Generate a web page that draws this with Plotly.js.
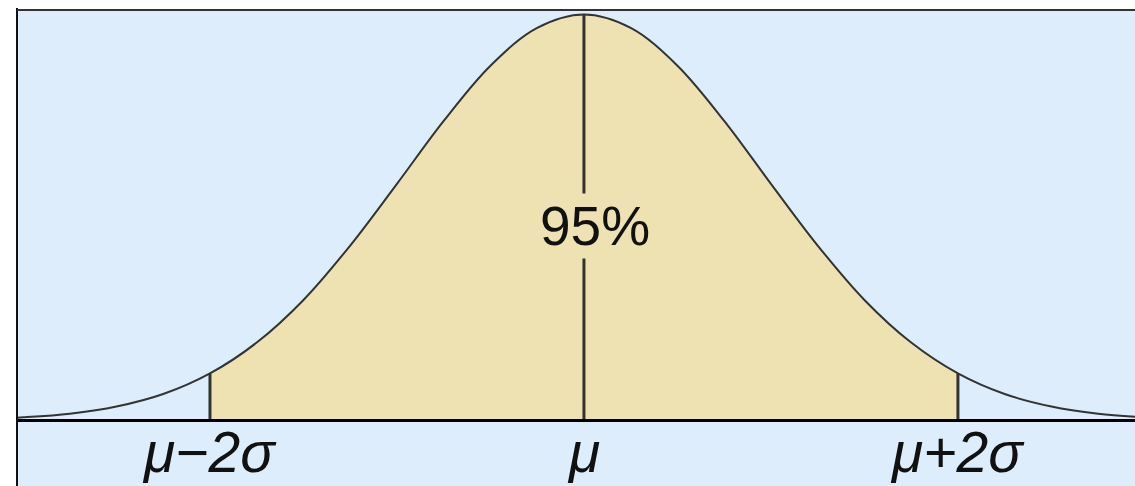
<!DOCTYPE html>
<html>
<head>
<meta charset="utf-8">
<script src="https://cdn.plot.ly/plotly-3.0.1.min.js"></script>
<style>
  html, body { margin: 0; padding: 0; background: #fff; }
  #chart { width: 1135px; height: 486px; }
</style>
</head>
<body>
<div id="chart"></div>
<script>
// curve heights (peak = 1), x in sigma units from the mean
const curveX = [-3.05, -3.0, -2.75, -2.5, -2.25, -2.0, -1.75, -1.5, -1.25, -1.0, -0.75, -0.5, -0.25, 0,
                0.25, 0.5, 0.75, 1.0, 1.25, 1.5, 1.75, 2.0, 2.25, 2.5, 2.75, 3.0];
const curveY = [0.0066, 0.0078, 0.0169, 0.0344, 0.0652, 0.116, 0.192, 0.297, 0.431, 0.583, 0.738, 0.874, 0.967, 1,
                0.967, 0.874, 0.738, 0.583, 0.431, 0.297, 0.192, 0.116, 0.0652, 0.0344, 0.0169, 0.0078];

// marked positions and their labels
const markX = [-2, 0, 2];
const markLabels = ['<i>μ−2σ</i>', '<i>μ</i>', '<i>μ+2σ</i>'];
const areaLabel = '95%';

const tan = 'rgb(239,226,178)';
const blue = 'rgb(221,237,252)';

// shaded middle part, between the outer marks
const midX = curveX.filter(x => x >= markX[0] && x <= markX[2]);
const midY = midX.map(x => curveY[curveX.indexOf(x)]);

const traces = [
  {
    x: midX, y: midY, type: 'scatter', mode: 'lines',
    line: {shape: 'spline', width: 0, color: tan},
    fill: 'tozeroy', fillcolor: tan, hoverinfo: 'skip'
  }
];

// vertical marks up to the curve
markX.forEach(m => {
  traces.push({
    x: [m, m], y: [0, curveY[curveX.indexOf(m)]], type: 'scatter', mode: 'lines',
    line: {color: '#333', width: 3}, hoverinfo: 'skip'
  });
});

traces.push({
  x: curveX, y: curveY, type: 'scatter', mode: 'lines',
  line: {shape: 'spline', color: '#333', width: 2}, hoverinfo: 'skip'
});

const annotations = markX.map((m, i) => ({
  x: m, y: -0.078, xref: 'x', yref: 'y', text: markLabels[i],
  showarrow: false, xanchor: 'center', yanchor: 'middle',
  font: {family: 'Liberation Sans, Arial, sans-serif', size: 57, color: '#111'}
}));
annotations.push({
  x: markX[1], y: 0.479, xref: 'x', yref: 'y', text: areaLabel, xshift: 11,
  showarrow: false, xanchor: 'center', yanchor: 'middle', bgcolor: tan,
  font: {family: 'Liberation Sans, Arial, sans-serif', size: 55, color: '#111'}
});

const layout = {
  width: 1135, height: 486,
  margin: {l: 17, r: 0, t: 10, b: 0, pad: 0},
  paper_bgcolor: '#fff',
  plot_bgcolor: blue,
  showlegend: false,
  xaxis: {range: [-3.032, 2.947], visible: false, fixedrange: true},
  yaxis: {range: [-0.1613, 1.0111], visible: false, fixedrange: true},
  shapes: [
    {type: 'line', xref: 'paper', yref: 'y', x0: 0, x1: 1, y0: 0, y1: 0,
     line: {color: '#000', width: 3}, layer: 'above'},
    {type: 'line', xref: 'paper', yref: 'paper', x0: 0, x1: 0, y0: 0, y1: 1.004,
     line: {color: '#111', width: 2}},
    {type: 'line', xref: 'paper', yref: 'paper', x0: 0, x1: 1, y0: 1, y1: 1,
     line: {color: '#333', width: 2}}
  ],
  annotations: annotations
};

Plotly.newPlot('chart', traces, layout, {displayModeBar: false, staticPlot: true});
</script>
</body>
</html>
